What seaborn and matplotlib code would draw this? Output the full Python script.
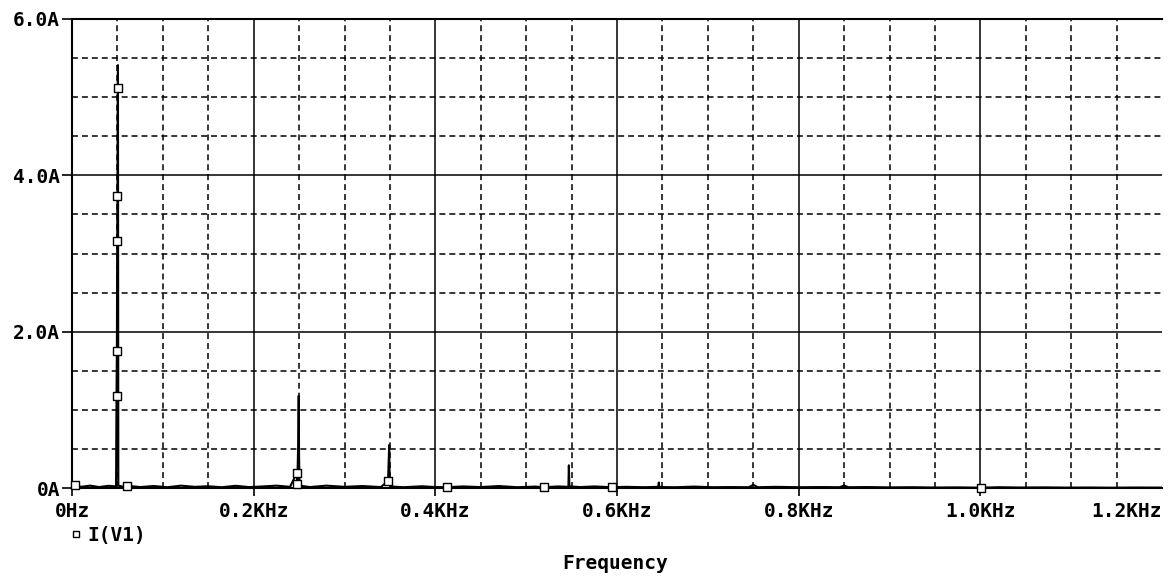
import matplotlib
matplotlib.use("Agg")
import matplotlib.pyplot as plt
from matplotlib.ticker import MultipleLocator, FixedLocator
from matplotlib.lines import Line2D
import pandas as pd
import seaborn as sns

# FFT of the supply current I(V1): frequency in KHz, magnitude in A
trace_khz = [
    0.000, 0.003, 0.010, 0.020, 0.030, 0.040, 0.0485,
    0.0490, 0.0494, 0.0498, 0.0500, 0.0504, 0.0506, 0.0508, 0.0510,
    0.057, 0.060, 0.075, 0.090, 0.105, 0.120, 0.135, 0.150, 0.165, 0.180,
    0.195, 0.210, 0.225, 0.240,
    0.2475, 0.2480, 0.2490, 0.2496, 0.2500, 0.2505,
    0.262, 0.280, 0.300, 0.320, 0.340,
    0.3480, 0.3485, 0.3492, 0.3496, 0.3502,
    0.365, 0.385, 0.400, 0.413, 0.430, 0.450, 0.470, 0.490, 0.510, 0.520,
    0.535, 0.5465, 0.5470, 0.5476,
    0.560, 0.575, 0.594, 0.610, 0.630,
    0.6455, 0.6460, 0.6466,
    0.665, 0.685, 0.705, 0.725, 0.745, 0.750, 0.755, 0.775, 0.800, 0.825,
    0.845, 0.850, 0.855, 0.875, 0.900, 0.925, 0.950, 0.975, 1.001, 1.020,
    1.045, 1.070, 1.095, 1.120, 1.145, 1.170, 1.200,
]
trace_amp = [
    0.020, 0.040, 0.015, 0.030, 0.012, 0.028, 0.020,
    1.18, 1.75, 3.16, 3.74, 5.12, 5.41, 2.70, 0.030,
    0.015, 0.030, 0.012, 0.025, 0.010, 0.030, 0.015, 0.022, 0.010, 0.028,
    0.012, 0.020, 0.030, 0.015,
    0.19, 0.05, 0.55, 1.18, 0.40, 0.030,
    0.012, 0.030, 0.015, 0.025, 0.012,
    0.09, 0.30, 0.55, 0.20, 0.020,
    0.010, 0.022, 0.012, 0.010, 0.020, 0.012, 0.025, 0.010, 0.018, 0.010,
    0.020, 0.015, 0.29, 0.020,
    0.012, 0.020, 0.010, 0.015, 0.010,
    0.015, 0.07, 0.012,
    0.010, 0.018, 0.010, 0.012, 0.010, 0.04, 0.010, 0.015, 0.010, 0.012,
    0.010, 0.03, 0.010, 0.012, 0.008, 0.010, 0.006, 0.008, 0.004, 0.010,
    0.006, 0.008, 0.005, 0.006, 0.004, 0.006, 0.005,
]

# points carrying the trace symbol
marker_khz = [0.003, 0.0490, 0.0494, 0.0498, 0.0500, 0.0504, 0.060,
              0.2475, 0.2480, 0.3480, 0.413, 0.520, 0.594, 1.001]
marker_amp = [0.040, 1.18, 1.75, 3.16, 3.74, 5.12, 0.030,
              0.19, 0.05, 0.09, 0.010, 0.010, 0.010, 0.004]

x_ticks = [0.0, 0.2, 0.4, 0.6, 0.8, 1.0, 1.2]
x_tick_labels = ["0Hz", "0.2KHz", "0.4KHz", "0.6KHz", "0.8KHz", "1.0KHz", "1.2KHz"]
y_ticks = [0.0, 2.0, 4.0, 6.0]
y_tick_labels = ["0A", "2.0A", "4.0A", "6.0A"]
series_name = "I(V1)"

trace = pd.DataFrame({"khz": trace_khz, "amp": trace_amp})
marks = pd.DataFrame({"khz": marker_khz, "amp": marker_amp})

sns.set_theme(style="white")
plt.rcParams["font.family"] = ["DejaVu Sans Mono"]
plt.rcParams["font.weight"] = "bold"
plt.rcParams["text.color"] = "black"
plt.rcParams["axes.labelcolor"] = "black"
plt.rcParams["xtick.color"] = "black"
plt.rcParams["ytick.color"] = "black"

fig = plt.figure(figsize=(11.69, 5.77), dpi=100)
ax = fig.add_axes([72 / 1169, 1 - 488 / 577, 1090 / 1169, 469 / 577])

sns.lineplot(data=trace, x="khz", y="amp", ax=ax, sort=False, estimator=None,
             color="black", linewidth=1.5, zorder=3)
sns.scatterplot(data=marks, x="khz", y="amp", ax=ax, marker="s", s=30,
                facecolor="white", edgecolor="black", linewidth=1.0,
                zorder=4, clip_on=False)

ax.set_xlim(0, 1.2)
ax.set_ylim(0, 6)

ax.xaxis.set_major_locator(FixedLocator(x_ticks))
ax.xaxis.set_minor_locator(MultipleLocator(0.05))
ax.yaxis.set_major_locator(FixedLocator(y_ticks))
ax.yaxis.set_minor_locator(MultipleLocator(0.5))
ax.set_xticklabels(x_tick_labels)
ax.set_yticklabels(y_tick_labels)

ax.grid(which="major", color="black", linewidth=1.1, linestyle="-")
ax.grid(which="minor", color="black", linewidth=1.1, linestyle=(0, (3.9, 2.6)))
ax.set_axisbelow(True)

ax.tick_params(axis="x", which="major", direction="out", length=6, width=1.2,
               color="black", labelcolor="black", labelsize=14, pad=4, bottom=True)
ax.tick_params(axis="y", which="major", direction="out", length=7, width=1.2,
               color="black", labelcolor="black", labelsize=14, pad=1.5, left=True)
ax.tick_params(which="minor", length=0)

# rightmost tick keeps its label only
last = ax.xaxis.get_major_ticks()[-1]
last.tick1line.set_visible(False)
last.gridline.set_visible(False)
for lbl in ax.get_xticklabels():
    lbl.set_fontweight("bold")
ax.get_xticklabels()[-1].set_horizontalalignment("right")
for lbl in ax.get_yticklabels():
    lbl.set_fontweight("bold")

for side in ("left", "bottom", "top"):
    ax.spines[side].set_visible(True)
    ax.spines[side].set_color("black")
    ax.spines[side].set_linewidth(1.5)
ax.spines["right"].set_visible(False)

ax.set_ylabel("")
ax.set_xlabel("Frequency", fontsize=14, fontweight="bold", color="black")
ax.xaxis.label.set_verticalalignment("center")
ax.xaxis.set_label_coords(0.498, -0.16)

handle = Line2D([], [], marker="s", linestyle="none", markersize=5,
                markerfacecolor="white", markeredgecolor="black",
                markeredgewidth=1.0)
leg = fig.legend([handle], [series_name], loc="center left",
                 bbox_to_anchor=(70 / 1169, 1 - 535 / 577), frameon=False,
                 handlelength=0.6, handletextpad=0.3, borderpad=0, borderaxespad=0,
                 prop={"family": "DejaVu Sans Mono", "weight": "bold", "size": 14})
for txt in leg.get_texts():
    txt.set_color("black")

fig.savefig("out.png", dpi=100, facecolor="white")
